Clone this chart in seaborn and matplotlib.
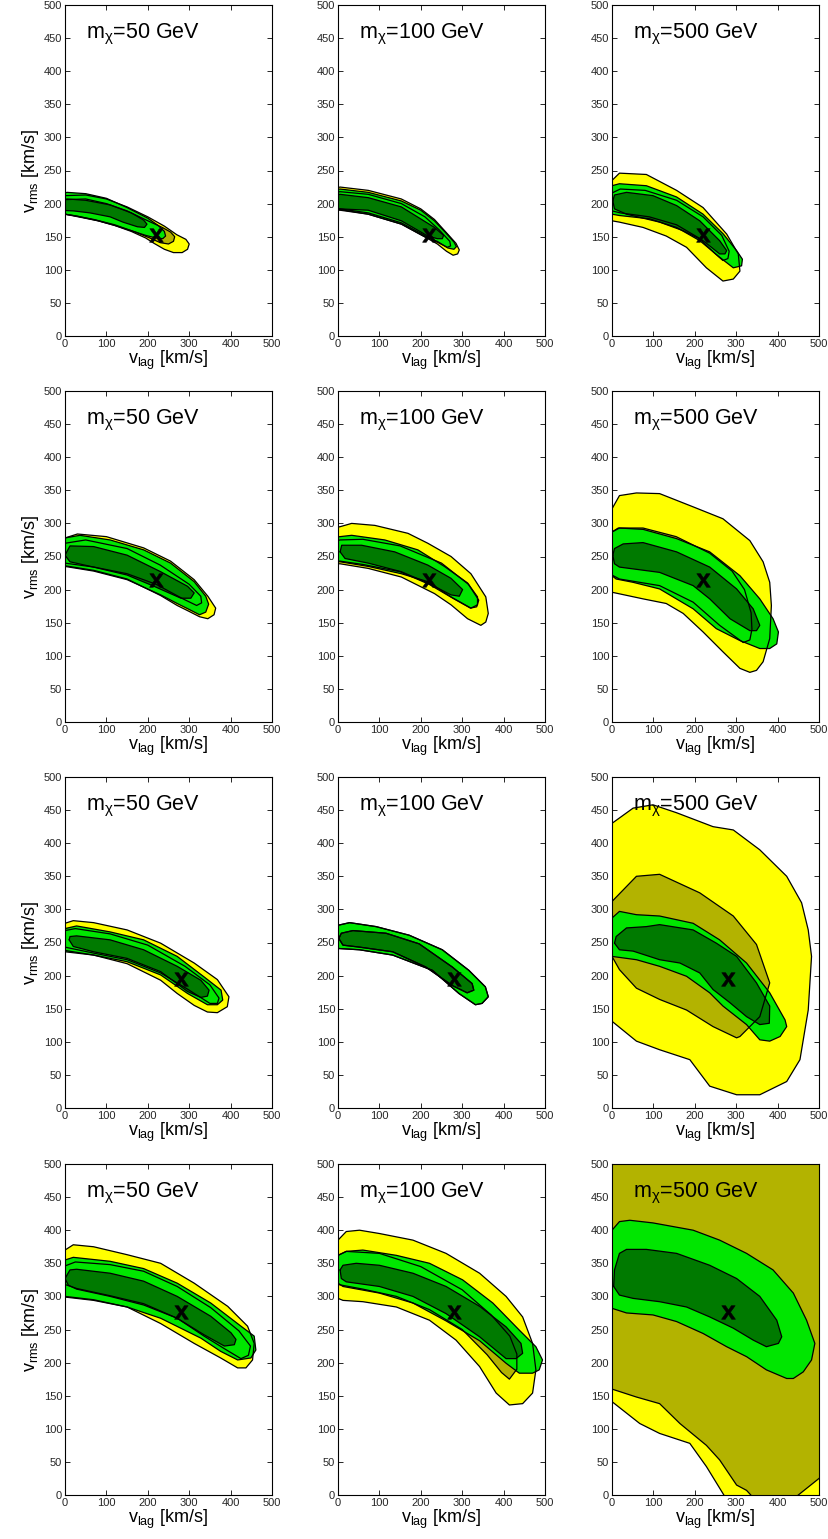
import numpy as np
import pandas as pd
import matplotlib
matplotlib.use("Agg")
import matplotlib.pyplot as plt
import seaborn as sns

# dark matter masses (columns) and true (v_lag, v_rms) per row
masses = [50, 100, 500]
true_vlag = [220, 220, 280, 280]
true_vrms = [152, 215, 195, 277]

# contour outlines, (v_lag, v_rms) in km/s
# a95/a68 = yellow/olive set, b95/b68 = light/dark green set
r1c1_a95 = [(-15,186),(-15,210),(0,212),(50,213),(100,207),(150,195),(200,180),(240,166),(270,153),(292,146),(300,139),(296,131),(283,126),(262,126),(240,131),(215,140),(195,148),(160,158),(120,167),(80,174),(30,181),(0,184)]
r1c1_a68 = [(-15,190),(-15,204),(0,206),(50,207),(100,200),(150,189),(200,174),(235,164),(255,157),(265,150),(262,143),(250,139),(230,141),(205,148),(170,157),(120,168),(70,176),(20,182),(0,184)]
r1c1_b95 = [(-15,184),(-15,214),(5,217),(50,215),(100,208),(150,194),(200,178),(225,167),(240,158),(243,151),(236,147),(220,148),(195,152),(160,159),(120,167),(80,174),(40,179),(0,184)]
r1c1_b68 = [(-15,190),(-15,204),(5,207),(50,205),(109,198),(160,186),(190,175),(198,169),(192,164),(175,165),(140,172),(109,180),(60,186),(20,189)]

r1c2_a95 = [(-15,190),(-15,222),(5,225),(73,220),(153,207),(200,192),(233,176),(262,156),(285,140),(293,130),(289,124),(278,122),(262,128),(240,139),(209,150),(153,169),(73,184),(5,190)]
r1c2_a68 = [(-15,193),(-15,216),(5,218),(73,214),(153,200),(210,180),(245,160),(270,143),(272,136),(264,134),(245,140),(215,150),(153,171),(73,186),(5,192)]
r1c2_b95 = [(-15,191),(-15,220),(5,222),(73,217),(153,204),(200,190),(233,174),(260,156),(280,142),(286,135),(280,131),(265,133),(240,143),(209,150),(153,169),(73,184),(5,191)]
r1c2_b68 = [(-15,192),(-15,212),(5,214),(73,209),(153,195),(233,164),(255,152),(252,147),(240,147),(217,151),(153,174),(73,190),(5,192)]

r1c3_a95 = [(-15,172),(-15,232),(0,235),(18,246),(83,244),(156,220),(220,194),(277,154),(305,124),(309,98),(293,86),(268,83),(228,103),(180,134),(131,151),(75,164),(18,172),(0,174)]
r1c3_a68 = [(-15,188),(-15,213),(0,216),(20,222),(80,220),(156,205),(220,180),(265,152),(283,128),(280,117),(268,114),(248,125),(210,148),(156,168),(90,180),(20,186),(0,189)]
r1c3_b95 = [(-15,183),(-15,225),(0,227),(18,230),(83,227),(156,210),(220,184),(269,154),(301,129),(315,116),(313,106),(293,103),(260,119),(212,144),(156,164),(91,177),(18,182),(0,184)]
r1c3_b68 = [(2,204),(6,213),(35,217),(99,212),(156,197),(212,174),(260,144),(277,129),(273,124),(260,124),(220,144),(172,159),(115,172),(35,184),(6,192)]

r2c1_a95 = [(-15,236),(-15,276),(0,278),(30,284),(100,280),(190,263),(255,243),(312,215),(345,190),(364,172),(360,162),(345,156),(325,159),(300,167),(271,176),(231,191),(150,216),(70,229),(0,236)]
r2c1_a68 = [(-15,240),(-15,268),(0,270),(50,275),(150,262),(230,237),(300,208),(328,190),(330,180),(318,176),(285,186),(220,208),(150,224),(70,234),(0,240)]
r2c1_b95 = [(-15,235),(-15,276),(0,278),(36,282),(109,275),(190,260),(255,240),(312,212),(340,190),(347,178),(340,166),(325,162),(300,170),(271,179),(231,192),(150,215),(69,228),(0,235)]
r2c1_b68 = [(0,252),(12,266),(69,265),(150,252),(231,227),(296,205),(312,195),(304,187),(280,187),(215,205),(150,222),(69,234),(12,242)]

r2c2_a95 = [(-15,239),(-15,293),(5,295),(33,300),(89,297),(169,285),(217,270),(273,250),(321,224),(357,189),(363,164),(357,151),(345,146),(313,156),(273,177),(233,194),(153,219),(73,232),(5,239)]
r2c2_a68 = [(-15,243),(-15,272),(5,275),(60,276),(150,266),(250,240),(315,208),(340,184),(335,174),(320,172),(280,186),(220,208),(150,227),(60,238),(5,243)]
r2c2_b95 = [(-15,242),(-15,279),(5,280),(33,282),(113,275),(193,260),(257,235),(313,210),(337,189),(337,177),(321,172),(273,189),(217,212),(153,224),(73,235),(5,242)]
r2c2_b68 = [(5,257),(9,267),(57,267),(137,257),(217,237),(273,217),(301,200),(293,190),(273,192),(217,210),(153,227),(73,240),(17,247)]

r2c3_a95 = [(-15,196),(-15,322),(0,322),(18,342),(59,346),(115,345),(196,325),(268,307),(333,274),(365,242),(381,211),(385,176),(381,126),(365,91),(349,78),(333,75),(309,81),(268,106),(220,136),(172,164),(131,179),(75,186),(0,196)]
r2c3_a68 = [(-15,222),(-15,285),(0,287),(15,293),(75,293),(155,280),(236,255),(290,228),(320,200),(336,165),(338,140),(333,124),(317,120),(260,146),(196,181),(115,206),(18,216),(0,222)]
r2c3_b95 = [(-15,221),(-15,287),(0,287),(18,293),(75,291),(156,277),(236,257),(309,221),(357,186),(389,156),(402,136),(398,118),(381,111),(357,111),(309,123),(252,141),(196,171),(115,201),(51,211),(10,216),(0,221)]
r2c3_b68 = [(2,252),(6,262),(27,269),(75,271),(156,257),(236,234),(301,201),(341,171),(357,146),(349,138),(333,138),(285,156),(236,186),(196,206),(115,226),(18,234),(6,239)]

r3c1_a95 = [(-15,238),(-15,277),(0,279),(20,283),(69,280),(150,269),(231,249),(312,219),(368,194),(396,168),(392,153),(368,144),(344,145),(312,155),(271,173),(231,193),(150,218),(69,231),(0,238)]
r3c1_a68 = [(-15,245),(-15,266),(0,268),(25,271),(109,263),(200,246),(290,214),(350,186),(372,166),(368,158),(350,158),(300,178),(231,204),(150,224),(69,234),(0,243)]
r3c1_b95 = [(-15,236),(-15,270),(0,271),(28,275),(109,266),(190,254),(271,229),(336,198),(377,178),(381,163),(368,156),(344,156),(296,173),(231,201),(150,221),(69,231),(0,236)]
r3c1_b68 = [(10,254),(12,259),(28,260),(109,254),(190,239),(271,214),(328,193),(348,178),(344,169),(328,167),(296,176),(231,206),(150,226),(69,236),(20,244)]

r3c2_b95 = [(-15,241),(-15,276),(0,276),(28,280),(92,274),(172,261),(252,239),(316,208),(356,183),(363,168),(348,158),(332,156),(292,173),(228,208),(132,231),(52,239),(0,241)]
r3c2_b68 = [(2,256),(8,264),(36,268),(116,264),(196,248),(276,213),(324,188),(328,178),(312,174),(276,185),(212,213),(132,236),(52,243),(12,246)]
r3c2_a95 = r3c2_b95  # yellow set hidden under the green one
r3c2_a68 = r3c2_b68

r3c3_a95 = [(-15,131),(-15,430),(0,430),(51,453),(99,458),(156,446),(244,425),(293,420),(357,390),(422,350),(458,310),(474,269),(482,229),(474,148),(454,73),(422,40),(357,20),(301,20),(236,33),(188,73),(115,88),(59,101),(0,131)]
r3c3_a68 = [(-15,229),(-15,312),(0,312),(59,350),(115,353),(212,325),(293,290),(349,247),(381,189),(357,138),(309,108),(301,106),(244,123),(180,148),(115,164),(59,181),(18,209),(0,229)]
r3c3_b95 = [(-15,229),(-15,287),(0,287),(18,297),(59,292),(115,290),(196,279),(260,254),(325,219),(381,174),(418,133),(422,123),(406,108),(381,101),(357,103),(325,126),(268,154),(236,174),(180,199),(115,214),(59,224),(0,229)]
r3c3_b68 = [(6,249),(10,259),(35,272),(83,274),(115,277),(196,269),(252,249),(301,229),(349,189),(381,154),(380,128),(357,126),(325,138),(285,159),(244,179),(212,204),(164,219),(115,224),(51,237),(18,239)]

r4c1_a95 = [(-15,299),(-15,369),(0,370),(20,378),(69,375),(150,363),(231,350),(312,320),(393,285),(441,255),(457,229),(453,204),(437,192),(417,192),(376,207),(312,229),(231,259),(150,284),(69,294),(0,299)]
r4c1_a68 = [(-15,318),(-15,345),(0,346),(25,352),(109,348),(190,338),(271,315),(352,283),(420,248),(448,225),(443,211),(425,206),(385,221),(336,240),(271,267),(190,289),(109,301),(28,312),(0,318)]
r4c1_b95 = [(-15,300),(-15,354),(0,355),(20,359),(109,353),(190,342),(271,320),(352,290),(425,255),(457,240),(461,219),(449,207),(417,204),(376,217),(328,237),(231,267),(150,284),(69,295),(0,300)]
r4c1_b68 = [(0,327),(12,340),(28,341),(109,335),(190,323),(271,300),(352,270),(401,245),(413,235),(409,227),(385,225),(336,242),(271,267),(190,287),(109,300),(28,311),(8,317)]

r4c2_a95 = [(-15,297),(-15,385),(0,385),(20,398),(52,400),(100,395),(181,385),(261,365),(342,335),(406,300),(446,269),(470,229),(478,189),(470,154),(446,138),(414,136),(382,154),(342,194),(285,234),(221,264),(141,284),(60,292),(12,294),(0,297)]
r4c2_a68 = [(-15,318),(-15,360),(0,362),(20,368),(100,365),(200,345),(300,310),(370,272),(415,240),(432,213),(432,190),(414,175),(395,185),(360,212),(300,250),(221,280),(141,300),(60,311),(0,318)]
r4c2_b95 = [(-15,320),(-15,362),(0,362),(20,368),(60,370),(141,362),(221,350),(301,325),(374,290),(438,249),(478,224),(494,204),(486,189),(470,184),(438,184),(406,199),(342,233),(261,263),(181,290),(100,305),(12,315),(0,320)]
r4c2_b68 = [(5,340),(12,347),(44,350),(100,347),(181,335),(261,315),(342,285),(406,254),(442,229),(446,214),(430,206),(406,206),(342,239),(261,274),(181,300),(100,315),(20,322),(8,327)]

r4c3_a95 = [(-15,145),(0,141),(67,108),(115,93),(188,78),(228,43),(280,-10),(515,-10),(515,515),(-15,515)]
r4c3_a68 = [(-15,160),(0,160),(59,148),(115,138),(164,108),(228,75),(260,53),(301,15),(325,7),(350,-10),(430,-10),(500,25),(515,35),(515,515),(-15,515)]
r4c3_b95 = [(-15,282),(-15,400),(0,400),(18,413),(43,415),(99,411),(196,400),(260,385),(325,365),(389,340),(438,305),(470,264),(490,229),(482,204),(462,186),(438,176),(422,176),(373,189),(325,209),(277,224),(220,244),(156,262),(99,272),(35,275),(0,282)]
r4c3_b68 = [(4,315),(6,340),(18,365),(35,371),(83,371),(156,365),(236,347),(301,327),(357,300),(398,264),(410,239),(402,229),(373,224),(341,234),(293,252),(236,269),(180,284),(115,292),(51,297),(18,302)]

panels = [
    [(r1c1_a95, r1c1_a68, r1c1_b95, r1c1_b68), (r1c2_a95, r1c2_a68, r1c2_b95, r1c2_b68), (r1c3_a95, r1c3_a68, r1c3_b95, r1c3_b68)],
    [(r2c1_a95, r2c1_a68, r2c1_b95, r2c1_b68), (r2c2_a95, r2c2_a68, r2c2_b95, r2c2_b68), (r2c3_a95, r2c3_a68, r2c3_b95, r2c3_b68)],
    [(r3c1_a95, r3c1_a68, r3c1_b95, r3c1_b68), (r3c2_a95, r3c2_a68, r3c2_b95, r3c2_b68), (r3c3_a95, r3c3_a68, r3c3_b95, r3c3_b68)],
    [(r4c1_a95, r4c1_a68, r4c1_b95, r4c1_b68), (r4c2_a95, r4c2_a68, r4c2_b95, r4c2_b68), (r4c3_a95, r4c3_a68, r4c3_b95, r4c3_b68)],
]

colores = ['#ffff00', '#b3b300', '#00e600', '#007a00']

sns.set_theme(style='ticks')
plt.rcParams['font.family'] = ['Liberation Sans', 'DejaVu Sans']
plt.rcParams['text.color'] = 'black'
plt.rcParams['axes.labelcolor'] = 'black'
plt.rcParams['mathtext.fontset'] = 'custom'
plt.rcParams['mathtext.rm'] = 'Liberation Sans'
plt.rcParams['mathtext.it'] = 'Liberation Sans'
plt.rcParams['mathtext.bf'] = 'Liberation Sans:bold'

W, H = 829, 1539
fig = plt.figure(figsize=(W / 100, H / 100), dpi=100)
col_left = [65, 338, 612]
row_top = [5, 391, 777, 1164]
aw, ah = 207, 331

for i in range(4):
    for j in range(3):
        ax = fig.add_axes([col_left[j] / W, 1 - (row_top[i] + ah) / H, aw / W, ah / H])
        ax.set_facecolor('white')
        contornos = panels[i][j]
        # fills first, in order yellow, olive, green, dark green
        for k, poly in enumerate(contornos):
            xs = [p[0] for p in poly]
            ys = [p[1] for p in poly]
            ax.fill(xs, ys, color=colores[k], lw=0, zorder=1 + k)
        # then all the outlines on top
        for poly in contornos:
            df = pd.DataFrame(poly + [poly[0]], columns=['vlag', 'vrms'])
            sns.lineplot(data=df, x='vlag', y='vrms', sort=False, estimator=None,
                         color='black', lw=0.9, ax=ax, zorder=6)
        sns.scatterplot(x=[true_vlag[i]], y=[true_vrms[i]], marker=r'$\mathbf{x}$', s=100,
                        color='black', edgecolor='black', linewidth=0.4, ax=ax, zorder=8)
        ax.set_xlim(0, 500)
        ax.set_ylim(0, 500)
        ax.set_xticks(range(0, 501, 100))
        ax.set_yticks(range(0, 501, 50))
        ax.tick_params(direction='in', top=True, right=True, length=3.5, width=0.7,
                       labelsize=8, labelcolor='#262626', pad=2)
        for s in ax.spines.values():
            s.set_linewidth(0.8)
            s.set_color('black')
            s.set_zorder(10)
        ax.set_xlabel(r'v$_{\rm lag}$ [km/s]', fontsize=13, labelpad=0)
        if j == 0:
            ax.set_ylabel(r'v$_{\rm rms}$ [km/s]', fontsize=13, labelpad=2)
        else:
            ax.set_ylabel('')
        ax.text(0.1, 0.9, r'm$_\chi$=%d GeV' % masses[j], transform=ax.transAxes,
                fontsize=15.5, va='baseline', ha='left', zorder=9)

fig.savefig('out.png', dpi=100)
